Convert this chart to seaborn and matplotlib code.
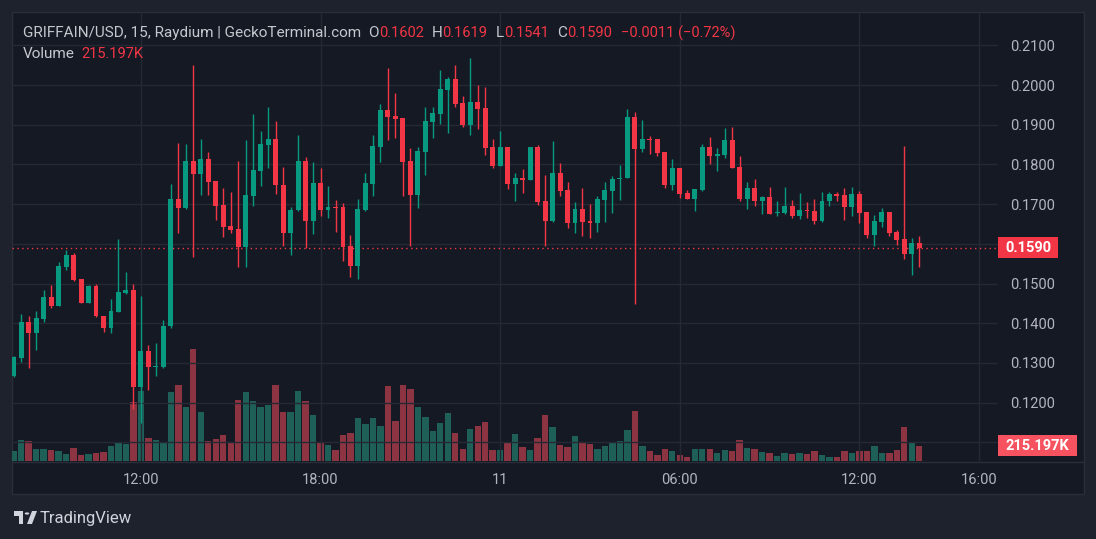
import numpy as np
import pandas as pd
import matplotlib
matplotlib.use("Agg")
import matplotlib.pyplot as plt
import seaborn as sns
from matplotlib.patches import Rectangle, Polygon, Circle
from matplotlib.lines import Line2D
from matplotlib.transforms import blended_transform_factory

# ---------------- data (15-minute candles, GRIFFAIN/USD) ----------------
opens = [0.1268, 0.1312, 0.1402, 0.1376, 0.1411, 0.1466, 0.1444, 0.1542, 0.1571, 0.1511,
         0.1451, 0.1493, 0.1418, 0.1389, 0.1429, 0.1477, 0.1483, 0.1239, 0.1329, 0.1289,
         0.1290, 0.1394, 0.1713, 0.1691, 0.1808, 0.1777, 0.1813, 0.1758, 0.1697, 0.1645,
         0.1637, 0.1591, 0.1720, 0.1784, 0.1849, 0.1864, 0.1749, 0.1628, 0.1684, 0.1808,
         0.1658, 0.1753, 0.1685, 0.1693, 0.1693, 0.1594, 0.1545, 0.1685, 0.1751, 0.1844,
         0.1937, 0.1922, 0.1917, 0.1808, 0.1723, 0.1831, 0.1907, 0.1927, 0.1987, 0.2015,
         0.1955, 0.1899, 0.1957, 0.1942, 0.1844, 0.1796, 0.1844, 0.1751, 0.1766, 0.1761,
         0.1844, 0.1708, 0.1657, 0.1778, 0.1735, 0.1652, 0.1688, 0.1657, 0.1652, 0.1710,
         0.1733, 0.1763, 0.1766, 0.1919, 0.1839, 0.1864, 0.1864, 0.1831, 0.1748, 0.1791,
         0.1728, 0.1713, 0.1735, 0.1844, 0.1821, 0.1824, 0.1861, 0.1793, 0.1713, 0.1740,
         0.1708, 0.1718, 0.1677, 0.1677, 0.1695, 0.1670, 0.1685, 0.1683, 0.1657, 0.1708,
         0.1725, 0.1723, 0.1693, 0.1725, 0.1680, 0.1622, 0.1655, 0.1680, 0.1630, 0.1612,
         0.1574, 0.1602]
highs = [0.1318, 0.1424, 0.1418, 0.1431, 0.1483, 0.1496, 0.1553, 0.1584, 0.1578, 0.1512,
         0.1495, 0.1500, 0.1419, 0.1462, 0.1611, 0.1529, 0.1500, 0.1469, 0.1344, 0.1349,
         0.1407, 0.1751, 0.1855, 0.1851, 0.2050, 0.1864, 0.1830, 0.1759, 0.1740, 0.1730,
         0.1808, 0.1861, 0.1927, 0.1884, 0.1945, 0.1909, 0.1793, 0.1693, 0.1873, 0.1818,
         0.1806, 0.1791, 0.1746, 0.1710, 0.1703, 0.1622, 0.1713, 0.1778, 0.1873, 0.1952,
         0.2043, 0.1980, 0.1917, 0.1841, 0.1844, 0.1945, 0.1945, 0.2038, 0.2020, 0.2050,
         0.1972, 0.2068, 0.2000, 0.1995, 0.1864, 0.1884, 0.1845, 0.1778, 0.1788, 0.1845,
         0.1849, 0.1773, 0.1859, 0.1803, 0.1756, 0.1705, 0.1740, 0.1700, 0.1720, 0.1756,
         0.1771, 0.1798, 0.1940, 0.1932, 0.1912, 0.1871, 0.1865, 0.1832, 0.1814, 0.1792,
         0.1735, 0.1739, 0.1851, 0.1869, 0.1841, 0.1891, 0.1894, 0.1821, 0.1756, 0.1763,
         0.1720, 0.1743, 0.1708, 0.1743, 0.1710, 0.1728, 0.1705, 0.1713, 0.1730, 0.1730,
         0.1730, 0.1740, 0.1743, 0.1733, 0.1681, 0.1672, 0.1690, 0.1681, 0.1635, 0.1846,
         0.1614, 0.1619]
lows = [0.1265, 0.1302, 0.1287, 0.1332, 0.1402, 0.1439, 0.1443, 0.1534, 0.1506, 0.1450,
        0.1450, 0.1416, 0.1379, 0.1376, 0.1428, 0.1473, 0.1184, 0.1148, 0.1232, 0.1266,
        0.1287, 0.1387, 0.1628, 0.1687, 0.1568, 0.1723, 0.1723, 0.1660, 0.1618, 0.1628,
        0.1542, 0.1542, 0.1695, 0.1746, 0.1791, 0.1725, 0.1595, 0.1572, 0.1683, 0.1590,
        0.1625, 0.1670, 0.1665, 0.1630, 0.1557, 0.1517, 0.1511, 0.1683, 0.1720, 0.1806,
        0.1861, 0.1866, 0.1720, 0.1595, 0.1690, 0.1773, 0.1866, 0.1902, 0.1879, 0.1945,
        0.1894, 0.1874, 0.1889, 0.1824, 0.1791, 0.1795, 0.1738, 0.1708, 0.1728, 0.1760,
        0.1698, 0.1594, 0.1656, 0.1720, 0.1640, 0.1627, 0.1620, 0.1615, 0.1630, 0.1655,
        0.1677, 0.1710, 0.1765, 0.1449, 0.1831, 0.1826, 0.1821, 0.1740, 0.1735, 0.1715,
        0.1712, 0.1683, 0.1733, 0.1801, 0.1783, 0.1816, 0.1790, 0.1708, 0.1688, 0.1695,
        0.1675, 0.1674, 0.1670, 0.1676, 0.1665, 0.1662, 0.1665, 0.1650, 0.1656, 0.1695,
        0.1708, 0.1660, 0.1670, 0.1652, 0.1614, 0.1594, 0.1642, 0.1620, 0.1597, 0.1562,
        0.1522, 0.1541]
closes = [0.1314, 0.1402, 0.1376, 0.1413, 0.1466, 0.1444, 0.1544, 0.1571, 0.1508, 0.1451,
          0.1493, 0.1417, 0.1389, 0.1431, 0.1478, 0.1483, 0.1239, 0.1329, 0.1289, 0.1292,
          0.1394, 0.1713, 0.1691, 0.1808, 0.1777, 0.1813, 0.1756, 0.1696, 0.1643, 0.1635,
          0.1591, 0.1723, 0.1786, 0.1851, 0.1864, 0.1748, 0.1628, 0.1685, 0.1808, 0.1658,
          0.1753, 0.1685, 0.1693, 0.1690, 0.1591, 0.1545, 0.1688, 0.1753, 0.1846, 0.1937,
          0.1919, 0.1914, 0.1806, 0.1723, 0.1834, 0.1909, 0.1929, 0.1990, 0.2015, 0.1952,
          0.1899, 0.1957, 0.1940, 0.1841, 0.1796, 0.1844, 0.1751, 0.1766, 0.1761, 0.1844,
          0.1705, 0.1657, 0.1778, 0.1733, 0.1652, 0.1688, 0.1655, 0.1652, 0.1713, 0.1735,
          0.1763, 0.1766, 0.1919, 0.1839, 0.1864, 0.1861, 0.1829, 0.1748, 0.1791, 0.1725,
          0.1713, 0.1738, 0.1844, 0.1821, 0.1826, 0.1861, 0.1791, 0.1713, 0.1740, 0.1708,
          0.1718, 0.1675, 0.1680, 0.1695, 0.1670, 0.1685, 0.1683, 0.1657, 0.1708, 0.1725,
          0.1720, 0.1693, 0.1725, 0.1677, 0.1622, 0.1657, 0.1680, 0.1627, 0.1609, 0.1574,
          0.1602, 0.1590]
volumes_k = [143, 301, 287, 177, 177, 158, 143, 105, 186, 86,
             105, 120, 129, 215, 273, 249, 846, 1004, 330, 301,
             273, 990, 1090, 775, 1607, 703, 287, 316, 373, 258,
             875, 990, 861, 775, 803, 1090, 703, 703, 1004, 861,
             660, 258, 230, 158, 373, 402, 617, 531, 617, 502,
             1076, 574, 1090, 1033, 775, 631, 430, 545, 689, 402,
             172, 459, 502, 560, 158, 158, 258, 387, 201, 158,
             330, 660, 488, 230, 201, 359, 273, 244, 172, 215,
             273, 287, 445, 717, 215, 143, 86, 172, 143, 86,
             57, 172, 172, 172, 115, 158, 143, 301, 186, 172,
             129, 115, 72, 115, 100, 115, 100, 143, 86, 57,
             57, 143, 115, 143, 143, 215, 115, 115, 158, 488,
             273, 215.197]

time_tick_pos = [17, 41, 65, 89, 113, 129]          # candle index of each label
time_tick_labels = ["12:00", "18:00", "11", "06:00", "12:00", "16:00"]
price_ticks = [0.11, 0.12, 0.13, 0.14, 0.15, 0.16, 0.17, 0.18, 0.19, 0.20, 0.21]
price_tick_labels = ["", "0.1200", "0.1300", "0.1400", "0.1500", "",
                     "0.1700", "0.1800", "0.1900", "0.2000", "0.2100"]
header_name = "GRIFFAIN/USD, 15, Raydium | GeckoTerminal.com"
header_ohlc = [("O", "0.1602"), ("H", "0.1619"), ("L", "0.1541"), ("C", "0.1590")]
header_change = "\u22120.0011 (\u22120.72%)"
last_price = 0.1590
last_volume_k = 215.197

# ---------------- styling ----------------
sns.set_theme(style="dark")
plt.rcParams["font.family"] = ["Roboto", "DejaVu Sans"]

UP, DOWN = "#089981", "#f23645"
VUP, VDOWN = "#1e5f58", "#8c3442"
BG_OUT, BG_IN = "#1e222d", "#151924"
GRID = "#252934"
TXT = "#b2b5be"

W, H = 1096, 539
fig = plt.figure(figsize=(W / 100, H / 100), dpi=100, facecolor=BG_OUT)

def fx(px):
    return px / W

def fy(py):
    return 1 - py / H

# widget panel
fig.add_artist(Rectangle((fx(12), fy(494)), fx(1084) - fx(12), fy(12) - fy(494),
                         transform=fig.transFigure, facecolor=BG_IN,
                         edgecolor="#2a2e39", lw=1, zorder=0))
fig.add_artist(Line2D([fx(12), fx(1084)], [fy(461.5), fy(461.5)],
                      transform=fig.transFigure, color="#2a2e39", lw=1, zorder=1))

ax = fig.add_axes([fx(12), fy(461), fx(998) - fx(12), fy(12) - fy(461)])
axv = ax.twinx()
ax.set_zorder(axv.get_zorder() + 1)
for a in (ax, axv):
    a.patch.set_visible(False)
    for s in a.spines.values():
        s.set_visible(False)

n = len(opens)
o = np.array(opens); c = np.array(closes); hi = np.array(highs); lo = np.array(lows)
idx = np.arange(n)
up = c >= o

# volume (seaborn)
df = pd.DataFrame({"idx": idx, "vol": volumes_k, "dir": np.where(up, "up", "down")})
sns.barplot(data=df, x="idx", y="vol", hue="dir", palette={"up": VUP, "down": VDOWN},
            native_scale=True, dodge=False, width=0.85, saturation=1, errorbar=None,
            legend=False, linewidth=0, ax=axv)
axv.set_ylim(0, 6441)
axv.set_yticks([])
axv.set_xlabel(""); axv.set_ylabel("")

# candles
cols = np.where(up, UP, DOWN)
ax.vlines(idx, lo, hi, colors=cols, lw=1, zorder=3)
body_lo = np.minimum(o, c)
body_h = np.maximum(np.abs(c - o), 0.00026)
ax.bar(idx, body_h, bottom=body_lo, width=0.66, color=cols, linewidth=0, zorder=4)

ax.set_ylim(0.10529, 0.218388)
ax.set_xlim(-0.227, 131.52)
ax.yaxis.tick_right()
ax.set_yticks(price_ticks, labels=price_tick_labels)
ax.set_xticks(time_tick_pos, labels=time_tick_labels)
ax.tick_params(axis="both", length=0, colors=TXT, labelsize=10.5)
ax.tick_params(axis="y", pad=9)
ax.tick_params(axis="x", pad=9)
ax.grid(True, color=GRID, lw=1)
ax.set_xlabel(""); ax.set_ylabel("")

# last price line + label
ax.axhline(last_price, color=DOWN, lw=1, ls=(0, (1, 2.5)), zorder=2)
tr = blended_transform_factory(ax.transAxes, ax.transData)
bw = 60 / 986
bh = 21 / 3970
ax.add_patch(Rectangle((1.0, last_price - bh / 2), bw, bh, transform=tr,
                       facecolor=DOWN, edgecolor="none", clip_on=False, zorder=5))
ax.text(1.0 + bw / 2, last_price, f"{last_price:.4f}", transform=tr, ha="center",
        va="center", color="white", fontsize=10.5, fontweight="bold", zorder=6)

trv = blended_transform_factory(axv.transAxes, axv.transData)
vbw = 79 / 986
vbh = 21 * 14.346
axv.add_patch(Rectangle((1.0, last_volume_k - vbh / 2), vbw, vbh, transform=trv,
                        facecolor="#f7525f", edgecolor="none", clip_on=False, zorder=5))
axv.text(1.0 + vbw / 2, last_volume_k, f"{last_volume_k:.3f}K", transform=trv,
         ha="center", va="center", color="white", fontsize=10.5, fontweight="bold", zorder=6)

# header legend
def put(txt, x, y, color, size=11):
    fig.text(fx(x), fy(y), txt, color=color, fontsize=size, va="center", ha="left")

put(header_name, 23, 33, "#c5c8ce")
label_x = [368, 432, 496, 557]
value_x = [379, 442, 504, 567]
for (lab, val), lx, vx in zip(header_ohlc, label_x, value_x):
    put(lab, lx, 33, "#c5c8ce")
    put(val, vx, 33, DOWN, size=10.5)
put(header_change, 621, 33, DOWN, size=10.5)
put("Volume", 23, 54, "#c5c8ce")
put(f"{last_volume_k:.3f}K", 81, 54, DOWN, size=10.5)

# TradingView logo
LOGO = "#d1d4dc"
fig.add_artist(Rectangle((fx(14), fy(516)), fx(23) - fx(14), fy(511) - fy(516),
                         transform=fig.transFigure, facecolor=LOGO, lw=0))
fig.add_artist(Rectangle((fx(18.5), fy(524)), fx(23) - fx(18.5), fy(516) - fy(524),
                         transform=fig.transFigure, facecolor=LOGO, lw=0))
fig.add_artist(Circle((fx(27), fy(513.5)), 2.3 / W, transform=fig.transFigure,
                      facecolor=LOGO, lw=0))
fig.add_artist(Polygon([(fx(27), fy(524)), (fx(32), fy(511)), (fx(37), fy(511)), (fx(32), fy(524))],
                       closed=True, transform=fig.transFigure, facecolor=LOGO, lw=0))
fig.text(fx(40), fy(518), "TradingView", color=LOGO, fontsize=12, va="center", ha="left")

fig.savefig("out.png", dpi=100, facecolor=BG_OUT)
